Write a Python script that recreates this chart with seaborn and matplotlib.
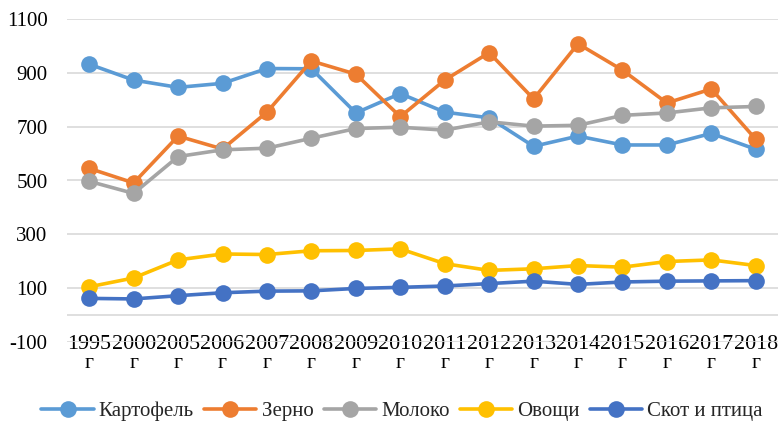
import matplotlib
matplotlib.use("Agg")
import matplotlib.pyplot as plt
from matplotlib.lines import Line2D
import seaborn as sns
import pandas as pd

years = ["1995", "2000", "2005", "2006", "2007", "2008", "2009", "2010",
         "2011", "2012", "2013", "2014", "2015", "2016", "2017", "2018"]
categories = [y + "\nг" for y in years]

kartofel = [932, 873, 846, 861, 916, 915, 751, 823, 754, 733, 627, 665, 632, 632, 675, 616]
zerno = [545, 491, 665, 617, 754, 944, 895, 737, 873, 975, 803, 1008, 910, 788, 840, 653]
moloko = [497, 452, 589, 614, 620, 657, 693, 698, 687, 718, 702, 705, 742, 751, 770, 775]
ovoshchi = [105, 138, 205, 227, 225, 239, 240, 246, 191, 166, 172, 184, 178, 199, 205, 184]
skot = [62, 60, 72, 83, 89, 90, 99, 103, 108, 117, 126, 114, 123, 126, 127, 128]

series_names = ["Картофель", "Зерно", "Молоко", "Овощи", "Скот и птица"]
series_values = [kartofel, zerno, moloko, ovoshchi, skot]
colors = ["#5B9BD5", "#ED7D31", "#A5A5A5", "#FFC000", "#4472C4"]
y_ticks = [-100, 100, 300, 500, 700, 900, 1100]

rows = []
for name, vals in zip(series_names, series_values):
    for cat, v in zip(categories, vals):
        rows.append({"cat": cat, "value": v, "series": name})
df = pd.DataFrame(rows)

sns.set_theme(style="white")
plt.rcParams["font.family"] = ["Liberation Serif", "DejaVu Serif"]

fig = plt.figure(figsize=(7.78, 4.23), dpi=100)
ax = fig.add_axes([67 / 778, 1 - 342 / 423, 711 / 778, (342 - 19) / 423])

palette = dict(zip(series_names, colors))
sns.lineplot(data=df, x="cat", y="value", hue="series", hue_order=series_names,
             palette=palette, marker="o", markersize=12, markeredgewidth=0,
             linewidth=2.6, sort=False, legend=False, ax=ax, zorder=3)

ax.set_xlim(-0.5, len(categories) - 0.5)
ax.set_ylim(-100, 1100)
ax.set_yticks(y_ticks)
ax.set_yticklabels([str(t) for t in y_ticks])
ax.yaxis.grid(True, color="#D9D9D9", linewidth=1.2, zorder=0)
ax.xaxis.grid(False)
ax.axhline(0, color="#D9D9D9", linewidth=1.2, zorder=1)
for s in ax.spines.values():
    s.set_visible(False)
ax.set_xlabel("")
ax.set_ylabel("")
ax.tick_params(axis="y", length=0, pad=14, labelsize=15, labelcolor="#000000")
ax.tick_params(axis="x", length=0, pad=-5, labelsize=15.8, labelcolor="#000000")
for lbl in ax.get_xticklabels():
    lbl.set_linespacing(1.0)

handles = [Line2D([0], [0], color=c, linewidth=2.6, marker="o", markersize=12,
                  markeredgewidth=0) for c in colors]
fig.legend(handles, series_names, loc="center", bbox_to_anchor=(0.517, 0.028),
           ncol=5, frameon=False, fontsize=15, handlelength=2.5,
           handletextpad=0.25, columnspacing=0.5, borderaxespad=0)

fig.savefig("out.png", dpi=100)
